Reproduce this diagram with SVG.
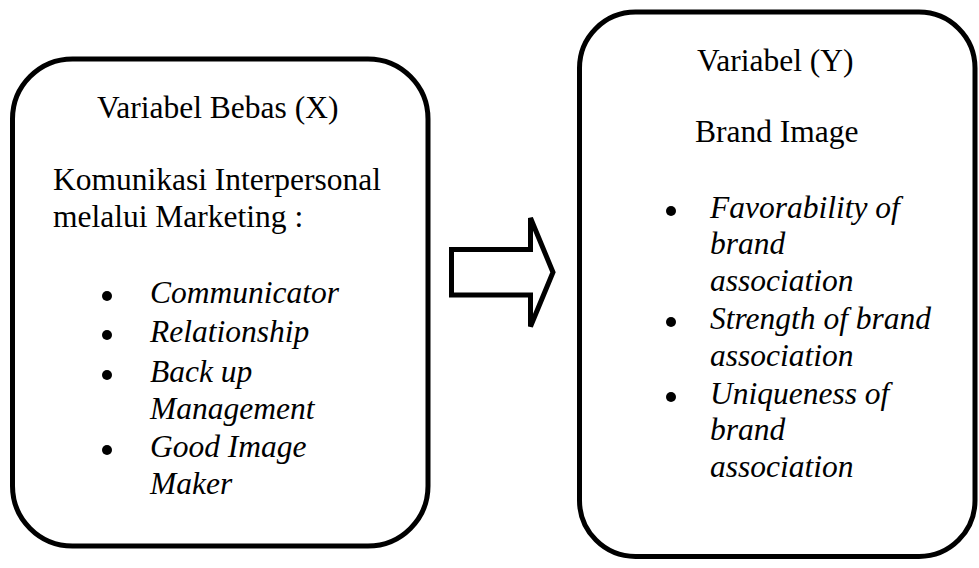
<svg xmlns="http://www.w3.org/2000/svg" width="979" height="568" viewBox="0 0 979 568">
<style>
.box{fill:#fff;stroke:#000;stroke-width:5}
.t{font-family:"Liberation Serif","Times New Roman",serif;font-size:31.5px;fill:#000}
.i{font-style:italic}
.b{fill:#000}
.arrow{fill:#fff;stroke:#000;stroke-width:5;stroke-linejoin:miter;stroke-miterlimit:4}
</style>
<rect width="979" height="568" fill="#fff"/>
<g id="nodeX">
<rect class="box" x="12.5" y="59" width="415.5" height="487" rx="60" ry="60"/>
<text class="t" x="97" y="118">Variabel Bebas (X)</text>
<text class="t" x="53" y="190">Komunikasi Interpersonal</text>
<text class="t" x="53" y="227">melalui Marketing :</text>
<circle class="b" cx="107" cy="296" r="5"/>
<text class="t i" x="150" y="303">Communicator</text>
<circle class="b" cx="107" cy="335" r="5"/>
<text class="t i" x="150" y="342">Relationship</text>
<circle class="b" cx="107" cy="375" r="5"/>
<text class="t i" x="150" y="382">Back up</text>
<text class="t i" x="150" y="419">Management</text>
<circle class="b" cx="107" cy="450" r="5"/>
<text class="t i" x="150" y="457">Good Image</text>
<text class="t i" x="150" y="494">Maker</text>
</g>
<g id="connectors">
<polygon class="arrow" points="451.5,249.5 530.5,249.5 530.5,218 553,272.25 530.5,326.5 530.5,295 451.5,295"/>
</g>
<g id="nodeY">
<rect class="box" x="579.5" y="12" width="395.5" height="544.5" rx="56" ry="56"/>
<text class="t" x="697" y="71">Variabel (Y)</text>
<text class="t" x="695" y="142">Brand Image</text>
<circle class="b" cx="671" cy="211" r="5"/>
<text class="t i" x="710" y="218">Favorability of</text>
<text class="t i" x="710" y="254">brand</text>
<text class="t i" x="710" y="291">association</text>
<circle class="b" cx="671" cy="322" r="5"/>
<text class="t i" x="710" y="329">Strength of brand</text>
<text class="t i" x="710" y="366">association</text>
<circle class="b" cx="671" cy="397" r="5"/>
<text class="t i" x="710" y="404">Uniqueness of</text>
<text class="t i" x="710" y="440">brand</text>
<text class="t i" x="710" y="477">association</text>
</g>
</svg>
